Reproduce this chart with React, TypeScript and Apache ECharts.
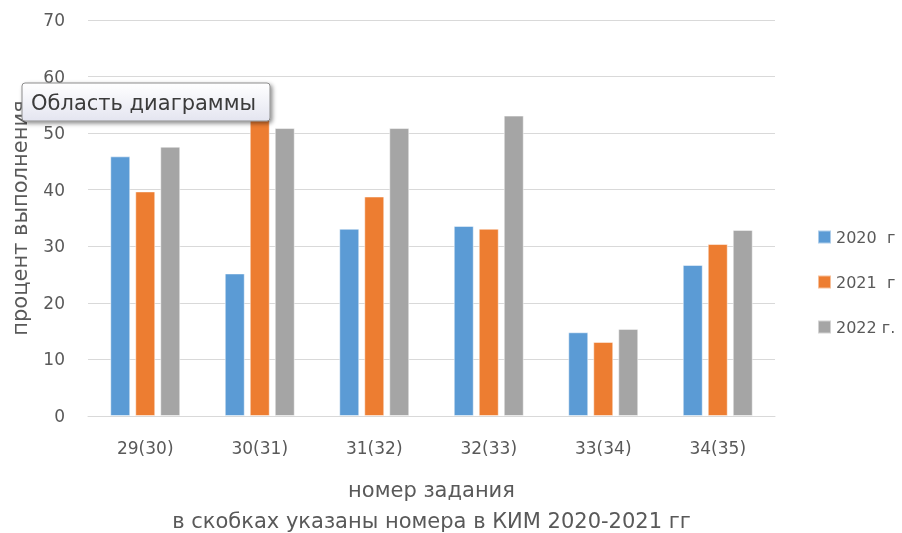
import React, { useEffect, useRef } from "react";
import * as echarts from "echarts";

const categories = ["29(30)", "30(31)", "31(32)", "32(33)", "33(34)", "34(35)"];
const seriesNames = ["2020  г", "2021  г", "2022 г."];
const values2020 = [45.9, 25.2, 33.1, 33.6, 14.8, 26.7];
const values2021 = [39.7, 54, 38.8, 33.1, 13.1, 30.4];
const values2022 = [47.6, 50.9, 50.9, 53.1, 15.4, 32.9];
const colors = ["#5B9BD5", "#ED7D31", "#A5A5A5"];
const yAxisTitle = "процент выполнения";
const xAxisTitle = "номер задания\nв скобках указаны номера в КИМ 2020-2021 гг";
const tipText = "Область диаграммы";

export default function App() {
  const ref = useRef<HTMLDivElement>(null);
  useEffect(() => {
    if (!ref.current) return;
    const chart = echarts.init(ref.current, undefined, { renderer: "svg" });
    const font = "DejaVu Sans";
    const data = [values2020, values2021, values2022];
    chart.setOption({
      animation: false,
      textStyle: { fontFamily: font },
      grid: { left: 88, right: 127, top: 20, bottom: 117, outerBoundsMode: "none" },
      legend: {
        orient: "vertical",
        left: 812,
        top: 224,
        itemWidth: 13,
        itemHeight: 13,
        itemGap: 29,
        icon: "rect",
        data: seriesNames,
        textStyle: { fontFamily: font, fontSize: 16, color: "#595959" },
      },
      xAxis: {
        type: "category",
        data: categories,
        axisLine: { lineStyle: { color: "#d9d9d9", width: 1 } },
        axisTick: { show: false },
        axisLabel: { fontFamily: font, fontSize: 17, color: "#595959", margin: 23 },
        name: xAxisTitle,
        nameLocation: "middle",
        nameGap: 58,
        nameTextStyle: { fontFamily: font, fontSize: 21, color: "#595959", lineHeight: 31 },
      },
      yAxis: {
        type: "value",
        min: 0,
        max: 70,
        interval: 10,
        axisLine: { show: false },
        axisTick: { show: false },
        splitLine: { lineStyle: { color: "#d9d9d9", width: 1 } },
        axisLabel: { fontFamily: font, fontSize: 17, color: "#595959", margin: 23 },
        name: yAxisTitle,
        nameLocation: "middle",
        nameRotate: 90,
        nameGap: 58,
        nameTextStyle: { fontFamily: font, fontSize: 21, color: "#595959" },
      },
      series: seriesNames.map((n, i) => ({
        name: n,
        type: "bar",
        data: data[i],
        barWidth: 20,
        barGap: "25%",
        barCategoryGap: "38%",
        itemStyle: { color: colors[i], borderColor: "rgba(255,255,255,0.5)", borderWidth: 1 },
      })),
      graphic: [
        {
          type: "rect",
          z: 100,
          shape: { x: 22, y: 83, width: 248, height: 38, r: 3 },
          style: {
            fill: new echarts.graphic.LinearGradient(0, 0, 0, 1, [
              { offset: 0, color: "#ffffff" },
              { offset: 1, color: "#e4e5f0" },
            ]),
            stroke: "#8c8c8c",
            lineWidth: 1,
            shadowBlur: 4,
            shadowOffsetX: 2,
            shadowOffsetY: 2,
            shadowColor: "rgba(0,0,0,0.45)",
          },
        },
        {
          type: "text",
          z: 101,
          x: 31,
          y: 103,
          style: {
            text: tipText,
            fontFamily: font,
            fontSize: 21,
            fill: "#3b3b3b",
            verticalAlign: "middle",
          },
        },
      ],
    });
    return () => chart.dispose();
  }, []);
  return (
    <div
      ref={ref}
      style={{ position: "fixed", left: 0, top: 0, width: 902, height: 533 }}
    />
  );
}
